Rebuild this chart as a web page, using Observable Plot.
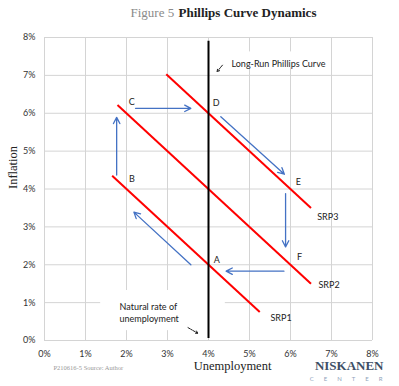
<!DOCTYPE html>
<html><head><meta charset="utf-8">
<script src="https://cdn.jsdelivr.net/npm/d3@7"></script>
<script src="https://cdn.jsdelivr.net/npm/@observablehq/plot@0.6"></script>
<style>body{margin:0;background:#fff}</style>
</head><body><div id="chart"></div>
<script>
// ---- data ----
const xTicks = [0, 1, 2, 3, 4, 5, 6, 7, 8];
const yTicks = [0, 1, 2, 3, 4, 5, 6, 7, 8];
const srpNames = ["SRP1", "SRP2", "SRP3"];
const srpIntercepts = [6, 8, 10];          // inflation = intercept - unemployment
const srpStart = [1.65, 1.78, 2.97];
const srpEnd = [5.25, 6.5, 6.5];
const srpLabelX = [5.77, 6.94, 6.91];
const srpLabelY = [0.6, 1.45, 3.26];
const pointNames = ["A", "B", "C", "D", "E", "F"];
const pointX = [4.2, 2.13, 2.13, 4.19, 6.19, 6.22];
const pointY = [2.13, 4.25, 6.29, 6.28, 4.17, 2.2];
const arrowX1 = [3.57, 1.76, 2.22, 4.3, 5.88, 5.84];
const arrowY1 = [2.0, 4.37, 6.13, 5.91, 3.88, 1.83];
const arrowX2 = [2.18, 1.76, 3.57, 5.85, 5.88, 4.43];
const arrowY2 = [3.39, 5.89, 6.13, 4.39, 2.47, 1.83];
const lrpcX = [4];
const lrpcRange = [0.05, 7.9];
const notes = ["Long-Run Phillips Curve", "Natural rate of\nunemployment"];
const noteX = [4.56, 1.83];
const noteY = [7.33, 0.74];
const noteBoxX1 = [4.45, 1.37];
const noteBoxX2 = [6.95, 4.41];
const noteBoxY1 = [7.2, 0.26];
const noteBoxY2 = [7.62, 1.32];
const pointerX1 = [4.34, 3.5];
const pointerY1 = [7.27, 0.34];
const pointerX2 = [4.21, 3.74];
const pointerY2 = [7.1, 0.19];

const srp = srpNames.map((n, i) => ({name: n, x1: srpStart[i], y1: srpIntercepts[i] - srpStart[i], x2: srpEnd[i], y2: srpIntercepts[i] - srpEnd[i], lx: srpLabelX[i], ly: srpLabelY[i]}));
const pts = pointNames.map((n, i) => ({name: n, x: pointX[i], y: pointY[i]}));
const arrows = arrowX1.map((d, i) => ({x1: d, y1: arrowY1[i], x2: arrowX2[i], y2: arrowY2[i]}));
const noteData = notes.map((t, i) => ({t, x: noteX[i], y: noteY[i], bx1: noteBoxX1[i], bx2: noteBoxX2[i], by1: noteBoxY1[i], by2: noteBoxY2[i]}));
const pointers = pointerX1.map((d, i) => ({x1: d, y1: pointerY1[i], x2: pointerX2[i], y2: pointerY2[i]}));

const sans = "Lato, 'Open Sans', sans-serif";
const serif = "'Liberation Serif', 'DejaVu Serif', serif";

const chart = Plot.plot({
  width: 399, height: 386,
  marginLeft: 44, marginRight: 27, marginTop: 37, marginBottom: 46,
  style: {fontFamily: sans, fontSize: "9px", background: "white", overflow: "visible", color: "#333"},
  x: {domain: [0, 8]},
  y: {domain: [0, 8]},
  marks: [
    Plot.gridX(xTicks, {stroke: "#d4d4d4", strokeOpacity: 1}),
    Plot.gridY(yTicks, {stroke: "#d4d4d4", strokeOpacity: 1}),
    Plot.axisX(xTicks, {tickSize: 0, tickPadding: 10, label: null, tickFormat: d => d + "%", fontSize: 9, fill: "#333"}),
    Plot.axisY(yTicks, {tickSize: 0, tickPadding: 9, label: null, tickFormat: d => d + "%", fontSize: 9, fill: "#333"}),
    Plot.rect(noteData, {x1: "bx1", x2: "bx2", y1: "by1", y2: "by2", fill: "white"}),
    Plot.link(srp, {x1: "x1", y1: "y1", x2: "x2", y2: "y2", stroke: "#ff0000", strokeWidth: 2}),
    Plot.ruleX(lrpcX, {y1: lrpcRange[0], y2: lrpcRange[1], stroke: "black", strokeWidth: 2}),
    Plot.arrow(arrows, {x1: "x1", y1: "y1", x2: "x2", y2: "y2", stroke: "#4472c4", strokeWidth: 1.3, headLength: 8, headAngle: 55}),
    Plot.arrow(pointers, {x1: "x1", y1: "y1", x2: "x2", y2: "y2", stroke: "#222", strokeWidth: 1, headLength: 4, strokeDasharray: "2,1"}),
    Plot.text(srp, {x: "lx", y: "ly", text: "name", fontSize: 9, fill: "#222", fontFamily: sans}),
    Plot.text(pts, {x: "x", y: "y", text: "name", fontSize: 9, fill: "#222", fontFamily: sans}),
    Plot.text(noteData, {x: "x", y: "y", text: "t", textAnchor: "start", fontSize: 9, fill: "#222", fontFamily: sans, lineHeight: 1.35}),
    // titles & labels
    Plot.text(["Figure 5"], {frameAnchor: "top-left", dx: 86, dy: -25, lineAnchor: "middle", textAnchor: "start", fontSize: 13, fill: "#8a8a8a", fontFamily: serif}),
    Plot.text(["Phillips Curve Dynamics"], {frameAnchor: "top-left", dx: 134, dy: -25, lineAnchor: "middle", textAnchor: "start", fontSize: 13, fontWeight: "bold", fill: "#222", fontFamily: serif}),
    Plot.text(["Inflation"], {frameAnchor: "left", dx: -32, rotate: -90, lineAnchor: "middle", fontSize: 12.5, fill: "#222", fontFamily: serif}),
    Plot.text(["Unemployment"], {frameAnchor: "bottom", dx: 24, dy: 25, lineAnchor: "middle", fontSize: 12.5, fill: "#222", fontFamily: serif}),
    Plot.text(["P210616-5 Source: Author"], {frameAnchor: "bottom-left", dx: 9, dy: 27, lineAnchor: "middle", textAnchor: "start", fontSize: 6.5, fill: "#999", fontFamily: serif}),
    Plot.text(["NISKANEN"], {frameAnchor: "bottom-right", dx: 11, dy: 25, lineAnchor: "middle", textAnchor: "end", fontSize: 13, fontWeight: "bold", fill: "#3d4f66", fontFamily: serif}),
    Plot.text(["CENTER"], {frameAnchor: "bottom-right", dx: 20, dy: 39, lineAnchor: "middle", textAnchor: "end", fontSize: 6, fill: "#8fa3bb", fontFamily: sans})
  ]
});
d3.select(chart).selectAll("text").filter(function() { return this.textContent === "CENTER"; })
  .attr("letter-spacing", "10px");
document.getElementById("chart").appendChild(chart);
</script>
</body></html>
